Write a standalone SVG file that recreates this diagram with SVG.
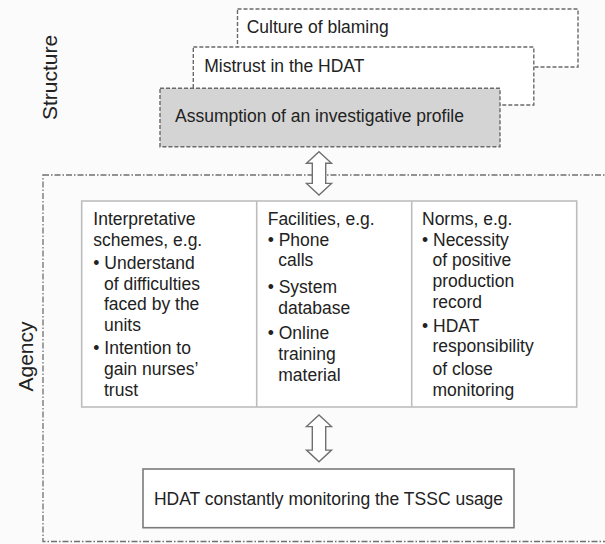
<svg xmlns="http://www.w3.org/2000/svg" width="605" height="544" viewBox="0 0 605 544">
<style>
  text { font-family: "Liberation Sans", Arial, sans-serif; fill: #222; }
  .t { font-size: 17.5px; }
  .lbl { font-size: 21px; text-anchor: middle; }
  .sbox { fill: #ffffff; stroke: #6a6a6a; stroke-width: 1.4; stroke-dasharray: 4 2; }
  .sbox.fill { fill: #d4d4d4; }
  .agency { fill: none; stroke: #707070; stroke-width: 1.3; stroke-dasharray: 6 2 1.5 2; }
  .tbl { fill: #ffffff; stroke: #bdbdbd; stroke-width: 1.6; }
  .div { stroke: #bdbdbd; stroke-width: 1.6; }
  .obox { fill: #ffffff; stroke: #7a7a7a; stroke-width: 1.6; }
  .arrow { fill: #ffffff; stroke: #707070; stroke-width: 1.4; stroke-linejoin: miter; }
</style>
<rect x="0" y="0" width="605" height="544" fill="#fbfbfb"/>

<g id="label-structure">
  <text class="lbl" transform="translate(57,77.5) rotate(-90)">Structure</text>
</g>
<g id="label-agency">
  <text class="lbl" transform="translate(33,356.5) rotate(-90)">Agency</text>
</g>

<g id="agency-frame">
  <rect class="agency" x="43" y="175" width="600" height="366.5"/>
</g>

<g id="culture">
  <rect class="sbox" x="237.5" y="9" width="340.5" height="58"/>
  <text class="t" x="246.7" y="33.3">Culture of blaming</text>
</g>
<g id="mistrust">
  <rect class="sbox" x="193.3" y="47" width="340.5" height="58"/>
  <text class="t" x="204.3" y="71.7">Mistrust in the HDAT</text>
</g>
<g id="assumption">
  <rect class="sbox fill" x="160" y="88.3" width="340" height="58.4"/>
  <text class="t" x="175" y="122.3">Assumption of an investigative profile</text>
</g>

<g id="table">
  <rect class="tbl" x="81.7" y="201" width="495" height="206"/>
  <line class="div" x1="256.7" y1="201" x2="256.7" y2="407"/>
  <line class="div" x1="411.7" y1="201" x2="411.7" y2="407"/>
</g>

<g id="interpretative-schemes">
  <text class="t" x="93.3" y="225">Interpretative</text>
  <text class="t" x="93.3" y="245.7">schemes, e.g.</text>
  <text class="t" x="93.3" y="269">• Understand</text>
  <text class="t" x="104" y="289.5">of difficulties</text>
  <text class="t" x="104" y="310">faced by the</text>
  <text class="t" x="104" y="330.7">units</text>
  <text class="t" x="93.3" y="354.3">• Intention to</text>
  <text class="t" x="104" y="375">gain nurses’</text>
  <text class="t" x="104" y="395.7">trust</text>
</g>

<g id="facilities">
  <text class="t" x="267.7" y="225">Facilities, e.g.</text>
  <text class="t" x="267.7" y="245.7">• Phone</text>
  <text class="t" x="278.3" y="266.4">calls</text>
  <text class="t" x="267.7" y="292.8">• System</text>
  <text class="t" x="278.3" y="313.5">database</text>
  <text class="t" x="267.7" y="339">• Online</text>
  <text class="t" x="278.3" y="359.7">training</text>
  <text class="t" x="278.3" y="381">material</text>
</g>

<g id="norms">
  <text class="t" x="422" y="225">Norms, e.g.</text>
  <text class="t" x="422" y="245.7">• Necessity</text>
  <text class="t" x="432.5" y="266.4">of positive</text>
  <text class="t" x="432.5" y="287">production</text>
  <text class="t" x="432.5" y="307.7">record</text>
  <text class="t" x="422" y="331.5">• HDAT</text>
  <text class="t" x="432.5" y="352.2">responsibility</text>
  <text class="t" x="432.5" y="375">of close</text>
  <text class="t" x="432.5" y="395.7">monitoring</text>
</g>

<g id="monitoring">
  <rect class="obox" x="143" y="469" width="371" height="58.7"/>
  <text class="t" x="328.5" y="505" text-anchor="middle">HDAT constantly monitoring the TSSC usage</text>
</g>

<g id="connectors">
  <path class="arrow" d="M319,151.7 L331.5,163.3 L325.7,163.3 L325.7,183.4 L331.5,183.4 L319,195 L306.5,183.4 L312.3,183.4 L312.3,163.3 L306.5,163.3 Z"/>
  <path class="arrow" d="M319,415 L331.5,426.6 L325.7,426.6 L325.7,450.1 L331.5,450.1 L319,461.7 L306.5,450.1 L312.3,450.1 L312.3,426.6 L306.5,426.6 Z"/>
</g>
</svg>
